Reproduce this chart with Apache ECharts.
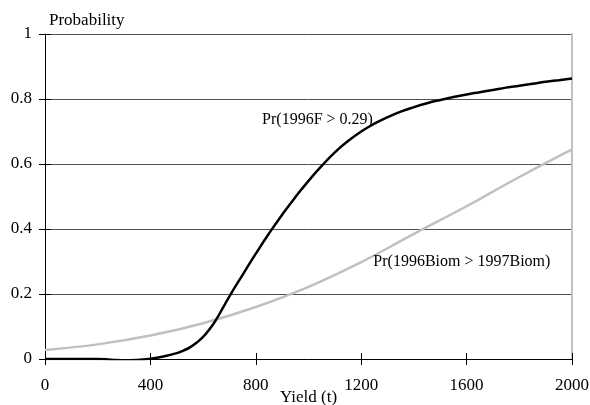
<!DOCTYPE html>
<html>
<head>
<meta charset="utf-8">
<script src="https://cdn.jsdelivr.net/npm/echarts@6/dist/echarts.min.js"></script>
<style>html,body{margin:0;padding:0;background:#fff}#c{width:590px;height:405px}</style>
</head>
<body>
<div id="c"></div>
<script>
// Yield (t) and probabilities
const fYield = [0,50,100,150,200,250,300,350,400,450,500,525,550,575,600,625,650,675,700,750,800,850,900,950,1000,1050,1100,1150,1200,1250,1300,1350,1400,1450,1500,1550,1600,1650,1700,1750,1800,1850,1900,1950,2000];
const fProb  = [0,0,0,0,0,-0.002,-0.004,-0.003,0.001,0.008,0.018,0.026,0.036,0.05,0.068,0.092,0.122,0.157,0.193,0.259,0.324,0.386,0.444,0.498,0.548,0.594,0.636,0.671,0.70,0.724,0.744,0.761,0.775,0.787,0.797,0.806,0.814,0.821,0.828,0.835,0.841,0.847,0.853,0.858,0.863];
const bYield = [0,200,400,600,800,1000,1200,1400,1600,1800,2000];
const bProb  = [0.028,0.045,0.072,0.11,0.16,0.222,0.298,0.385,0.47,0.56,0.645];
const xTicks = [0,400,800,1200,1600,2000];
const yTicks = [0,0.2,0.4,0.6,0.8,1];
const fName = 'Pr(1996F > 0.29)';
const bName = 'Pr(1996Biom > 1997Biom)';
const fLabelAt = [824, 0.735];
const bLabelAt = [1246, 0.30];

const FONT = 'Liberation Serif';
const chart = echarts.init(document.getElementById('c'));
const xBase = {type:'value', min:xTicks[0], max:xTicks[xTicks.length-1], interval:xTicks[1]-xTicks[0], position:'bottom'};
const yBase = {type:'value', min:yTicks[0], max:yTicks[yTicks.length-1], interval:yTicks[1]-yTicks[0]};
const pair = (xs, ys) => xs.map((x,i)=>[x, ys[i]]);

chart.setOption({
  animation:false,
  backgroundColor:'#fff',
  grid:{left:45, right:18, top:34, bottom:46, containLabel:false, outerBoundsMode:'none'},
  xAxis:[
    Object.assign({}, xBase, {
      name:'Yield (t)', nameLocation:'middle', nameGap:30, nameMoveOverlap:false,
      nameTextStyle:{fontFamily:FONT, fontSize:17, color:'#000'},
      axisLine:{show:true, lineStyle:{color:'#000', width:1}},
      axisTick:{show:true, inside:false, length:6, lineStyle:{color:'#000'}},
      axisLabel:{fontFamily:FONT, fontSize:17, color:'#000', margin:18, formatter:v=>String(v)},
      splitLine:{show:false}
    }),
    Object.assign({}, xBase, {
      axisLine:{show:false},
      axisTick:{show:true, inside:true, length:6, lineStyle:{color:'#000'}},
      axisLabel:{show:false}, splitLine:{show:false}
    })
  ],
  yAxis:[
    Object.assign({}, yBase, {
      position:'left',
      name:'Probability', nameLocation:'end', nameGap:5,
      nameTextStyle:{fontFamily:FONT, fontSize:17, color:'#000', align:'left', padding:[0,0,0,4]},
      axisLine:{show:true, lineStyle:{color:'#000', width:1}},
      axisTick:{show:true, inside:false, length:6, lineStyle:{color:'#000'}},
      axisLabel:{fontFamily:FONT, fontSize:17, color:'#000', margin:13, formatter:v=>String(v)},
      splitLine:{show:true, lineStyle:{color:'#505050', width:1}}
    }),
    Object.assign({}, yBase, {
      position:'left',
      axisLine:{show:false},
      axisTick:{show:true, inside:true, length:6, lineStyle:{color:'#000'}},
      axisLabel:{show:false}, splitLine:{show:false}
    }),
    Object.assign({}, yBase, {
      position:'right',
      axisLine:{show:true, lineStyle:{color:'#c0c0c0', width:2}},
      axisTick:{show:false}, axisLabel:{show:false}, splitLine:{show:false}
    })
  ],
  series:[
    {
      type:'line', name:bName, data:pair(bYield,bProb), smooth:0.4, showSymbol:false, symbol:'none',
      lineStyle:{color:'#c0c0c0', width:2.5}, z:3,
      markPoint:{symbol:'circle', symbolSize:0, silent:true,
        data:[{coord:bLabelAt, label:{show:true, position:'right', distance:0, formatter:bName, fontFamily:FONT, fontSize:16, color:'#000'}}]}
    },
    {
      type:'line', name:fName, data:pair(fYield,fProb), smooth:0.5, showSymbol:false, symbol:'none',
      lineStyle:{color:'#000', width:2.5}, z:4,
      markPoint:{symbol:'circle', symbolSize:0, silent:true,
        data:[{coord:fLabelAt, label:{show:true, position:'right', distance:0, formatter:fName, fontFamily:FONT, fontSize:16, color:'#000'}}]}
    }
  ]
});
</script>
</body>
</html>
